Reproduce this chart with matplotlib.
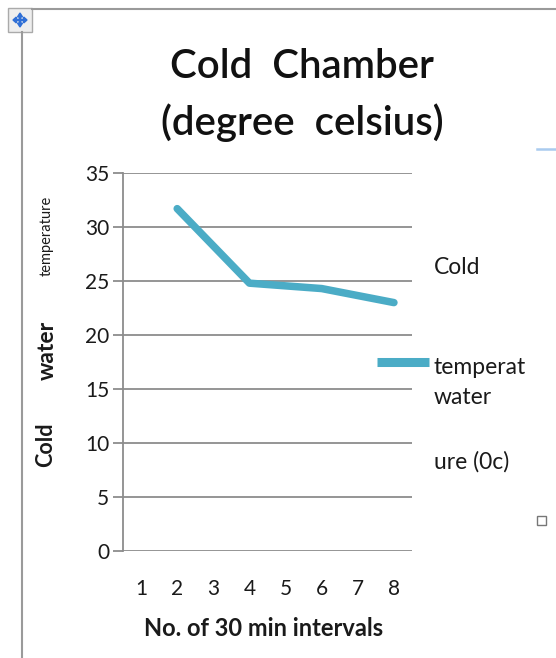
import matplotlib
matplotlib.use("Agg")
import matplotlib.pyplot as plt
from matplotlib.patches import Rectangle, FancyArrow
from matplotlib.lines import Line2D

# ---- data ----
categories = [1, 2, 3, 4, 5, 6, 7, 8]
x_measured = [2, 4, 6, 8]
temperature = [31.7, 24.8, 24.3, 23.0]
y_ticks = [0, 5, 10, 15, 20, 25, 30, 35]
title = "Cold  Chamber\n(degree  celsius)"
x_label = "No. of 30 min intervals"
legend_parts = ["Cold", "temperat", "water", "ure (0c)"]

W, H = 556, 658
fig = plt.figure(figsize=(W / 100, H / 100), dpi=100)
plt.rcParams['font.family'] = ['Lato', 'DejaVu Sans']

def fx(px):
    return px / W

def fy(py):
    return 1 - py / H

LINE_C = "#4BACC6"
GRID_C = "#8c8c8c"
TXT_C = "#1a1a1a"

ax = fig.add_axes([fx(123), fy(551), fx(412) - fx(123), fy(173) - fy(551)])
ax.plot(x_measured, temperature, color=LINE_C, lw=5.4, solid_capstyle="round",
        solid_joinstyle="round")
ax.set_xlim(0.5, 8.5)
ax.set_ylim(0, 35)
ax.set_yticks(y_ticks)
ax.yaxis.grid(True, color=GRID_C, lw=1.3)
ax.set_axisbelow(True)
for s in ["top", "right", "bottom"]:
    ax.spines[s].set_visible(False)
ax.spines["left"].set_color(GRID_C)
ax.spines["left"].set_linewidth(1.3)
ax.tick_params(axis="y", length=7, width=1.3, color=GRID_C, pad=3,
               labelsize=15, labelcolor=TXT_C)
ax.set_xticks(categories)
ax.set_xticklabels([str(c) for c in categories])
ax.tick_params(axis="x", length=0, pad=20.5, labelsize=15, labelcolor=TXT_C)
ax.set_xlabel(x_label, fontsize=17, fontweight="bold", color=TXT_C)
ax.xaxis.set_label_coords(fx(264), fy(628), transform=fig.transFigure)
ax.xaxis.label.set_va("center")

# title
fig.text(fx(302), fy(95), title, ha="center", va="center", fontsize=29,
         fontweight="semibold", color="#111111", linespacing=1.6)

# broken y label
fig.text(fx(46), fy(445), "Cold", rotation=90, ha="center", va="center",
         fontsize=15.5, fontweight="bold", color=TXT_C)
fig.text(fx(47), fy(350), "water", rotation=90, ha="center", va="center",
         fontsize=16.5, fontweight="bold", color=TXT_C)
fig.text(fx(47), fy(236), "temperature", rotation=90, ha="center", va="center",
         fontsize=10.5, color=TXT_C, family=['Liberation Sans Narrow', 'Lato'])

# broken legend
fig.add_artist(Line2D([fx(377), fx(429)], [fy(361.5), fy(361.5)], color=LINE_C,
                      lw=6.5, solid_capstyle="butt", transform=fig.transFigure))
leg_y = [267, 368, 398, 462]
for txt, yy in zip(legend_parts, leg_y):
    fig.text(fx(434), fy(yy), txt, ha="left", va="center", fontsize=16.5,
             color=TXT_C)

# frame decorations
fig.add_artist(Line2D([fx(22), fx(22)], [fy(32), fy(658)], color="#9a9a9a",
                      lw=1.5, transform=fig.transFigure))
fig.add_artist(Line2D([fx(32), fx(556)], [fy(9), fy(9)], color="#9a9a9a",
                      lw=1.5, transform=fig.transFigure))
fig.add_artist(Rectangle((fx(8), fy(32)), fx(24), fy(8) - fy(32),
                         facecolor="#eeeeee", edgecolor="#aaaaaa", lw=1,
                         transform=fig.transFigure))
cx, cy = 20, 20
for dx, dy in [(1, 0), (-1, 0), (0, 1), (0, -1)]:
    fig.add_artist(FancyArrow(
        fx(cx), fy(cy), fx(dx * 7), (fy(cy + dy * 7) - fy(cy)),
        width=0.002, head_width=0.009, head_length=0.006,
        length_includes_head=True, color="#2f6fd6", transform=fig.transFigure))
fig.add_artist(Line2D([fx(537), fx(556)], [fy(149), fy(149)], color="#a9cbef",
                      lw=1.8, transform=fig.transFigure))
fig.add_artist(Rectangle((fx(537), fy(525)), fx(9), fy(516) - fy(525),
                         facecolor="white", edgecolor="#777777", lw=1,
                         transform=fig.transFigure))

fig.savefig("out.png", dpi=100)
